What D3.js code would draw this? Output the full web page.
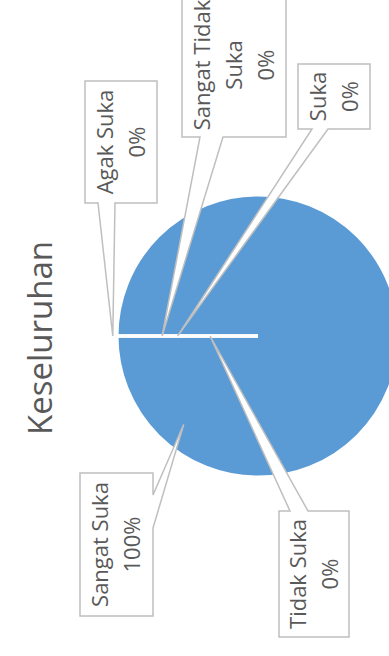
<!DOCTYPE html>
<meta charset="utf-8">
<script src="https://d3js.org/d3.v7.min.js"></script>
<style>
  body { margin: 0; background: #fff; }
  svg { display: block; font-family: "Open Sans", sans-serif; }
</style>
<div id="chart"></div>
<script>
  // data
  var title = "Keseluruhan";
  var categories = ["Sangat Suka", "Suka", "Agak Suka", "Tidak Suka", "Sangat Tidak Suka"];
  var values = [100, 0, 0, 0, 0];

  // callout boxes, drawn in the un-rotated frame (the whole chart is turned -90deg)
  var callouts = [
    { x0: 40, x1: 183, y0: 80, y1: 153, side: "bottom", n0: 128, n1: 161, angle: 310, rf: 0.82 },
    { x0: 527, x1: 592, y0: 298, y1: 370, side: "left", n0: 312, n1: 328, angle: 0, rf: 0.57 },
    { x0: 453, x1: 575, y0: 85, y1: 157, side: "left", n0: 98, n1: 115, angle: 0, rf: 1.03 },
    { x0: 19, x1: 145, y0: 279, y1: 349, side: "right", n0: 290, n1: 308, angle: 0, rf: 0.34 },
    { x0: 519, x1: 663, y0: 182, y1: 286, side: "left", n0: 200, n1: 223, angle: 0, rf: 0.68 }
  ];

  var W = 389, H = 656;
  var cx = 320, cy = 258, radius = 141;
  var lineGap = 32;

  var svg = d3.select("#chart").append("svg")
    .attr("width", W)
    .attr("height", H);

  // rotate everything so the chart reads bottom-to-top
  var g = svg.append("g")
    .attr("transform", "translate(0," + H + ") rotate(-90)");

  g.append("text")
    .attr("x", 318)
    .attr("y", 52)
    .attr("text-anchor", "middle")
    .style("font-size", "33px")
    .style("fill", "#595959")
    .text(title);

  var total = d3.sum(values);
  var pct = d3.format(".0%");

  var pie = d3.pie().sort(null).value(function (d) { return d; });
  var arc = d3.arc().innerRadius(0).outerRadius(radius);
  var slices = pie(values);

  var pieG = g.append("g").attr("transform", "translate(" + cx + "," + cy + ")");
  pieG.selectAll("path")
    .data(slices)
    .enter()
    .append("path")
    .attr("d", arc)
    .style("fill", "#5b9bd5")
    .style("stroke", "#fff")
    .style("stroke-width", 3);

  function calloutPath(c) {
    var a = c.angle * Math.PI / 180;
    var ax = cx + Math.sin(a) * radius * c.rf;
    var ay = cy - Math.cos(a) * radius * c.rf;
    var p;
    if (c.side == "left") {
      p = [[c.x0, c.y0], [c.x1, c.y0], [c.x1, c.y1], [c.x0, c.y1], [c.x0, c.n1], [ax, ay], [c.x0, c.n0]];
    } else if (c.side == "right") {
      p = [[c.x0, c.y0], [c.x1, c.y0], [c.x1, c.n0], [ax, ay], [c.x1, c.n1], [c.x1, c.y1], [c.x0, c.y1]];
    } else if (c.side == "bottom") {
      p = [[c.x0, c.y0], [c.x1, c.y0], [c.x1, c.y1], [c.n1, c.y1], [ax, ay], [c.n0, c.y1], [c.x0, c.y1]];
    } else {
      p = [[c.x0, c.y0], [c.n0, c.y0], [ax, ay], [c.n1, c.y0], [c.x1, c.y0], [c.x1, c.y1], [c.x0, c.y1]];
    }
    return "M" + p.join("L") + "Z";
  }

  var labels = g.append("g");
  categories.forEach(function (name, i) {
    var c = callouts[i];
    labels.append("path")
      .attr("d", calloutPath(c))
      .style("fill", "#fff")
      .style("stroke", "#bfbfbf")
      .style("stroke-width", 1.5);

    var t = labels.append("text")
      .attr("text-anchor", "middle")
      .style("font-size", "22px")
      .style("fill", "#595959");

    // greedy wrap of the category name to the box width
    var maxW = c.x1 - c.x0 - 8;
    var words = name.split(" "), lines = [], cur = "";
    var probe = t.append("tspan");
    words.forEach(function (w) {
      var test = cur ? cur + " " + w : w;
      probe.text(test);
      if (cur && probe.node().getComputedTextLength() > maxW) {
        lines.push(cur);
        cur = w;
      } else {
        cur = test;
      }
    });
    lines.push(cur);
    probe.remove();
    lines.push(pct(values[i] / total));

    var mx = (c.x0 + c.x1) / 2, my = (c.y0 + c.y1) / 2;
    var top = my - (lines.length - 1) * lineGap / 2;
    lines.forEach(function (l, k) {
      t.append("tspan")
        .attr("x", mx)
        .attr("y", top + k * lineGap)
        .attr("dy", "0.35em")
        .text(l);
    });
  });
</script>
